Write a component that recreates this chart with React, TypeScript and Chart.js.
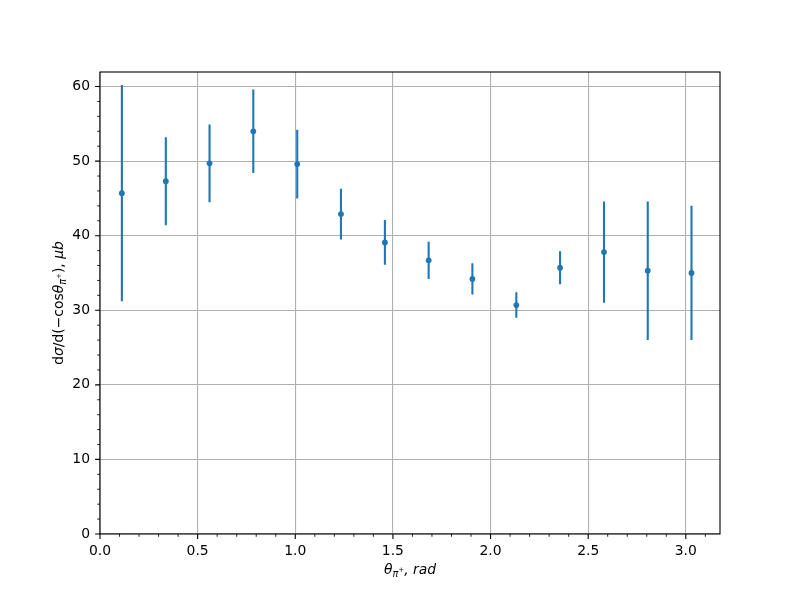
import React, { useEffect, useRef } from "react";
import { Chart, registerables } from "chart.js";

Chart.register(...registerables);

// ---- data ----
const xValues = [0.112, 0.337, 0.561, 0.785, 1.01, 1.234, 1.459, 1.683, 1.907, 2.132, 2.356, 2.581, 2.805, 3.029];
const yValues = [45.7, 47.3, 49.7, 54.0, 49.6, 42.9, 39.1, 36.7, 34.2, 30.7, 35.7, 37.8, 35.3, 35.0];
const yErrors = [14.5, 5.9, 5.2, 5.6, 4.6, 3.4, 3.0, 2.5, 2.1, 1.7, 2.2, 6.8, 9.3, 9.0];

const xMajorTicks = [0, 0.5, 1.0, 1.5, 2.0, 2.5, 3.0];
const yMajorTicks = [0, 10, 20, 30, 40, 50, 60];
const xMinorStep = 0.1;
const yMinorStep = 2;

const X_MIN = 0;
const X_MAX = 3.175;
const Y_MIN = 0;
const Y_MAX = 61.95;

const BLUE = "#1f77b4";
const FONT = '"DejaVu Sans"';
const FS = 13.9;

type Run = { t: string; it?: boolean; s?: number; dy?: number };

function runFont(r: Run) {
  return `${r.it ? "italic " : ""}${r.s || FS}px ${FONT}`;
}

function drawRuns(ctx: CanvasRenderingContext2D, runs: Run[], cx: number, baseY: number) {
  let total = 0;
  const widths = runs.map((r) => {
    ctx.font = runFont(r);
    const w = ctx.measureText(r.t).width;
    total += w;
    return w;
  });
  let x = cx - total / 2;
  ctx.textAlign = "left";
  ctx.textBaseline = "alphabetic";
  runs.forEach((r, i) => {
    ctx.font = runFont(r);
    ctx.fillText(r.t, x, baseY + (r.dy || 0));
    x += widths[i];
  });
}

const xTitleRuns: Run[] = [
  { t: "θ", it: true },
  { t: "π", it: true, s: 9.7, dy: 2.6 },
  { t: "+", s: 7, dy: -2.2 },
  { t: ", ", it: true },
  { t: "rad", it: true },
];

const yTitleRuns: Run[] = [
  { t: "d" },
  { t: "σ", it: true },
  { t: "/d(−cos" },
  { t: "θ", it: true },
  { t: "π", it: true, s: 9.7, dy: 2.6 },
  { t: "+", s: 7, dy: -2.2 },
  { t: "), " },
  { t: "μb", it: true },
];

const errorBarPlugin = {
  id: "errorBars",
  beforeDatasetsDraw(chart: any) {
    const { ctx, scales } = chart;
    const xs = scales.x;
    const ys = scales.y;
    ctx.save();
    ctx.strokeStyle = BLUE;
    ctx.lineWidth = 2.1;
    ctx.lineCap = "butt";
    ctx.beginPath();
    for (let i = 0; i < xValues.length; i++) {
      const px = xs.getPixelForValue(xValues[i]);
      const top = ys.getPixelForValue(yValues[i] + yErrors[i]);
      const bot = ys.getPixelForValue(yValues[i] - yErrors[i]);
      ctx.moveTo(px, top);
      ctx.lineTo(px, bot);
    }
    ctx.stroke();
    ctx.restore();
  },
};

const axesDecorPlugin = {
  id: "axesDecor",
  afterDraw(chart: any) {
    const { ctx, chartArea: a, scales } = chart;
    const xs = scales.x;
    const ys = scales.y;
    ctx.save();
    // spines
    ctx.strokeStyle = "#000";
    ctx.lineWidth = 1.1;
    ctx.strokeRect(a.left, a.top, a.right - a.left, a.bottom - a.top);

    // major ticks
    ctx.beginPath();
    xMajorTicks.forEach((v) => {
      const p = xs.getPixelForValue(v);
      ctx.moveTo(p, a.bottom);
      ctx.lineTo(p, a.bottom + 4.9);
    });
    yMajorTicks.forEach((v) => {
      const p = ys.getPixelForValue(v);
      ctx.moveTo(a.left, p);
      ctx.lineTo(a.left - 4.9, p);
    });
    ctx.stroke();

    // minor ticks
    ctx.lineWidth = 0.85;
    ctx.beginPath();
    for (let k = 0; k * xMinorStep <= X_MAX + 1e-9; k++) {
      if (k % 5 === 0) continue;
      const p = xs.getPixelForValue(k * xMinorStep);
      ctx.moveTo(p, a.bottom);
      ctx.lineTo(p, a.bottom + 2.8);
    }
    for (let k = 0; k * yMinorStep <= Y_MAX + 1e-9; k++) {
      if (k % 5 === 0) continue;
      const p = ys.getPixelForValue(k * yMinorStep);
      ctx.moveTo(a.left, p);
      ctx.lineTo(a.left - 2.8, p);
    }
    ctx.stroke();

    // axis titles
    ctx.fillStyle = "#000";
    drawRuns(ctx, xTitleRuns, (a.left + a.right) / 2, 574);
    ctx.save();
    ctx.translate(63, (a.top + a.bottom) / 2);
    ctx.rotate(-Math.PI / 2);
    drawRuns(ctx, yTitleRuns, 0, 0);
    ctx.restore();

    ctx.restore();
  },
};

export default function App() {
  const canvasRef = useRef<HTMLCanvasElement | null>(null);

  useEffect(() => {
    if (!canvasRef.current) return;
    const chart = new Chart(canvasRef.current, {
      type: "scatter",
      data: {
        datasets: [
          {
            data: xValues.map((x, i) => ({ x, y: yValues[i] })),
            backgroundColor: BLUE,
            borderColor: BLUE,
            borderWidth: 0,
            pointRadius: 2.9,
            pointHoverRadius: 2.9,
          },
        ],
      },
      options: {
        animation: false,
        responsive: false,
        devicePixelRatio: 1,
        layout: { padding: { top: 72, right: 80, left: 0, bottom: 0 } },
        plugins: {
          legend: { display: false },
          tooltip: { enabled: false },
        },
        scales: {
          x: {
            type: "linear",
            min: X_MIN,
            max: X_MAX,
            ticks: {
              stepSize: 0.5,
              includeBounds: false,
              maxRotation: 0,
              autoSkip: false,
              padding: 9,
              color: "#000",
              font: { family: FONT, size: FS },
              callback: (v: any) => Number(v).toFixed(1),
            },
            grid: { color: "#b0b0b0", lineWidth: 1.1, drawTicks: false },
            border: { display: false },
            afterFit: (s: any) => {
              s.height = 66;
            },
          },
          y: {
            type: "linear",
            min: Y_MIN,
            max: Y_MAX,
            ticks: {
              stepSize: 10,
              includeBounds: false,
              autoSkip: false,
              padding: 10,
              color: "#000",
              font: { family: FONT, size: FS },
              callback: (v: any) => String(v),
            },
            grid: { color: "#b0b0b0", lineWidth: 1.1, drawTicks: false },
            border: { display: false },
            afterFit: (s: any) => {
              s.width = 100;
            },
          },
        },
      },
      plugins: [errorBarPlugin, axesDecorPlugin],
    });
    return () => chart.destroy();
  }, []);

  return (
    <div style={{ position: "absolute", left: 0, top: 0, width: 800, height: 600, background: "#fff" }}>
      <canvas ref={canvasRef} width={800} height={600} />
    </div>
  );
}
